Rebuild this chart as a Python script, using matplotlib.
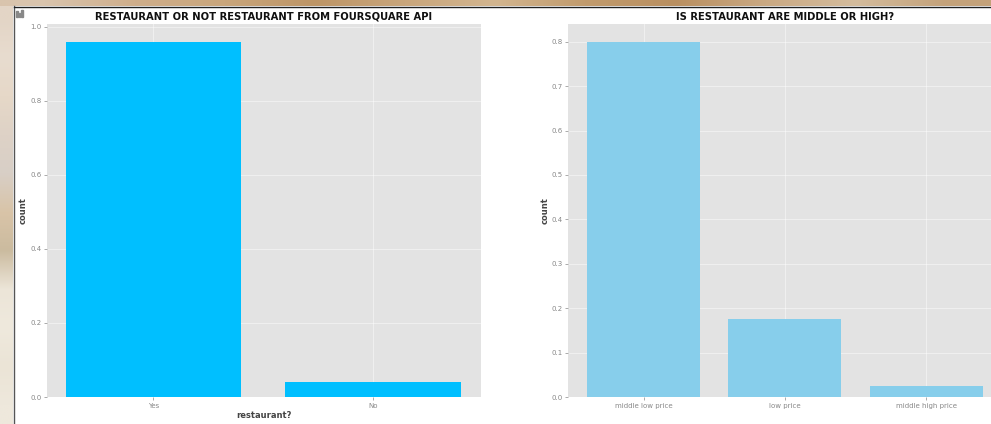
import matplotlib
matplotlib.use('Agg')
import matplotlib.pyplot as plt
import numpy as np
from matplotlib.colors import to_rgb
from matplotlib.patches import Rectangle

W, H = 991, 424

restaurant_labels = ['Yes', 'No']
restaurant_values = [0.96, 0.04]
price_labels = ['middle low price', 'low price', 'middle high price']
price_values = [0.80, 0.175, 0.024]

# rough colours of the photo behind the panel
left_strip = ['#e3d5c6', '#e8dccf', '#e6d8c8', '#ded2c6', '#d8cfc6', '#d9c4a8', '#cbbb9f', '#ece5d8', '#efe9dd', '#ebe4d6', '#eee8dc']
top_strip = ['#d9c4ad', '#cfae8b', '#c9a67c', '#bd9566', '#c9a67c', '#d2b58f', '#c19b6d', '#b98f60', '#caa983', '#d4bc9d', '#c4a27a']


def axes_px(fig, left, top, right, bottom):
    # pixel box of the screenshot -> figure fraction
    return fig.add_axes([left / W, 1 - bottom / H, (right - left) / W, (bottom - top) / H])


def strip(fig, colours, left, top, right, bottom, vertical):
    a = axes_px(fig, left, top, right, bottom)
    img = np.array([to_rgb(c) for c in colours])
    img = img[:, None, :] if vertical else img[None, :, :]
    a.imshow(img, aspect='auto', interpolation='bilinear')
    a.axis('off')


def style_ax(ax):
    ax.set_facecolor('#e3e3e3')
    ax.grid(True, color='white', linewidth=0.8, alpha=0.45)
    ax.set_axisbelow(True)
    for s in ax.spines.values():
        s.set_visible(False)
    ax.tick_params(axis='both', labelsize=5, colors='#888888', length=2, width=0.5, pad=2)


fig = plt.figure(figsize=(W / 100, H / 100), dpi=100, facecolor='white')

strip(fig, left_strip, 0, 0, 13, H, True)
strip(fig, top_strip, 0, 0, W, 6, False)
fig.add_artist(plt.Line2D([13.5 / W, 13.5 / W], [0, 1 - 6 / H], color='#555555', linewidth=1))
fig.add_artist(plt.Line2D([13.5 / W, 1], [1 - 6.5 / H, 1 - 6.5 / H], color='#222222', linewidth=1))

ax1 = axes_px(fig, 47, 24, 481, 397)
style_ax(ax1)
ax1.bar(restaurant_labels, restaurant_values, width=0.8, color='deepskyblue')
ax1.set_xlim(-0.485, 1.492)
ax1.set_ylim(0, 1.008)
ax1.set_yticks([0, 0.2, 0.4, 0.6, 0.8, 1.0])
ax1.set_title('RESTAURANT OR NOT RESTAURANT FROM FOURSQUARE API', fontsize=7.2, fontweight='bold', pad=3.5, color='#111111')
ax1.set_xlabel('restaurant?', fontsize=6, fontweight='bold', color='#444444', labelpad=2)
ax1.set_ylabel('count', fontsize=6, fontweight='bold', color='#444444', labelpad=2)

ax2 = axes_px(fig, 568, 24, 991, 397)
style_ax(ax2)
ax2.bar(price_labels, price_values, width=0.8, color='skyblue')
ax2.set_xlim(-0.535, 2.46)
ax2.set_ylim(0, 0.84)
ax2.set_yticks([0, 0.1, 0.2, 0.3, 0.4, 0.5, 0.6, 0.7, 0.8])
# the screenshot cuts this axes off on the right, so the title sits right of centre
ax2.set_title('IS RESTAURANT ARE MIDDLE OR HIGH?', fontsize=7.2, fontweight='bold', pad=3, color='#111111', x=0.512)
ax2.set_ylabel('count', fontsize=6, fontweight='bold', color='#444444', labelpad=1)

# little chart icon, top left of the panel
for x, y, w, h in [(16, 11, 1.5, 6), (18.5, 13, 1.5, 4), (21, 10, 1.5, 7)]:
    fig.patches.append(Rectangle((x / W, 1 - (y + h) / H), w / W, h / H, transform=fig.transFigure, color='#888888'))

fig.savefig('out.png', dpi=100)
